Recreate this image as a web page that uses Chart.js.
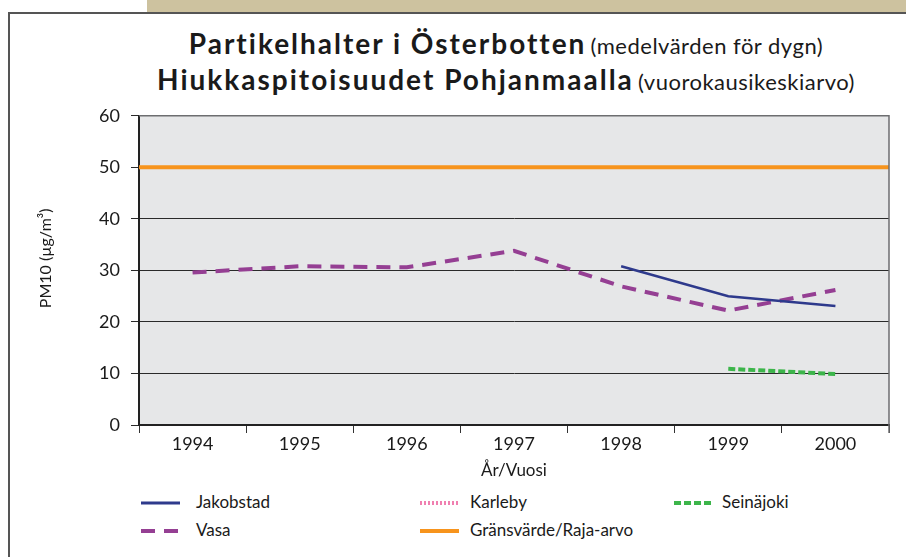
<!DOCTYPE html>
<html lang="sv">
  <head>
    <meta charset="UTF-8" />
    <title>Partikelhalter i Österbotten</title>
    <style>
      body { margin: 0; width: 906px; height: 557px; background: #fff; position: relative; overflow: hidden; font-family: Lato, "Open Sans", sans-serif; color: #1a1a1a; }
      .band { position: absolute; left: 147px; top: 0; width: 759px; height: 12px; background: #cdc29f; }
      .frame { position: absolute; left: 8px; top: 12px; width: 910px; height: 560px; border-left: 2px solid #555; border-top: 2px solid #555; }
      .title { position: absolute; left: 0; width: 1012px; text-align: center; white-space: nowrap; }
      .title b { font-size: 28px; font-weight: 700; letter-spacing: 2px; }
      .title span { font-size: 22px; letter-spacing: 0.5px; }
      #t1 { top: 26px; }
      #t2 { top: 62px; }
      .wrap { position: absolute; left: 0; top: 94px; width: 906px; height: 396px; }
      .legend-item { position: absolute; font-size: 17px; height: 22px; line-height: 22px; }
    </style>
  </head>
  <body>
    <div class="band"></div>
    <div class="frame"></div>
    <div class="title" id="t1"><b>Partikelhalter i Österbotten</b> <span>(medelvärden för dygn)</span></div>
    <div class="title" id="t2"><b>Hiukkaspitoisuudet Pohjanmaalla</b> <span>(vuorokausikeskiarvo)</span></div>
    <div class="wrap"><canvas id="myChart"></canvas></div>
    <div id="legend"></div>

    <script src="https://cdn.jsdelivr.net/npm/chart.js"></script>
    <script>
      // values
      const years = ["1994", "1995", "1996", "1997", "1998", "1999", "2000"];
      const jakobstad = [null, null, null, null, 30.8, 25.0, 23.1];
      const karleby = [null, null, null, null, null, null, null];
      const vasa = [29.6, 30.8, 30.6, 33.8, 26.9, 22.2, 26.2];
      const seinajoki = [null, null, null, null, null, 10.9, 9.9];
      const gransvarde = [50, 50, 50, 50, 50, 50, 50];
      const yTitle = "PM10 (µg/m³)";

      const plotBg = {
        id: "plotBg",
        beforeDraw(chart) {
          const { ctx, chartArea: a } = chart;
          ctx.save();
          ctx.fillStyle = "#e6e7e8";
          ctx.fillRect(a.left, a.top, a.right - a.left, a.bottom - a.top);
          ctx.restore();
        },
        afterDraw(chart) {
          const { ctx, chartArea: a } = chart;
          ctx.save();
          ctx.strokeStyle = "#6d6e70";
          ctx.lineWidth = 1.5;
          ctx.beginPath();
          ctx.moveTo(a.left, a.top);
          ctx.lineTo(a.right, a.top);
          ctx.lineTo(a.right, a.bottom + 8);
          ctx.stroke();
          // y axis title sits a bit above the middle of the plot
          ctx.translate(46, (a.top + a.bottom) / 2 - 12);
          ctx.rotate(-Math.PI / 2);
          ctx.fillStyle = "#1a1a1a";
          ctx.font = "16px Lato";
          ctx.textAlign = "center";
          ctx.textBaseline = "middle";
          ctx.fillText(yTitle, 0, 0);
          ctx.restore();
        },
      };

      // legend spots: [line x, text x, row y]
      const datasets = [
        { label: "Jakobstad", data: jakobstad, borderColor: "#2e3a8c", borderWidth: 2.5, borderDash: [], legendPos: [141, 196, 503] },
        { label: "Karleby", data: karleby, borderColor: "#f07fb0", borderWidth: 4, borderDash: [2, 2], legendPos: [420, 470, 503] },
        { label: "Seinäjoki", data: seinajoki, borderColor: "#3cb54a", borderWidth: 4, borderDash: [7, 3], legendPos: [674, 722, 503] },
        { label: "Vasa", data: vasa, borderColor: "#953f93", borderWidth: 4, borderDash: [14, 9], legendPos: [141, 196, 531] },
        { label: "Gränsvärde/Raja-arvo", data: gransvarde, borderColor: "#f7941d", borderWidth: 4, borderDash: [], xAxisID: "x2", legendPos: [420, 470, 531] },
      ];

      const chart = new Chart(document.getElementById("myChart"), {
        type: "line",
        data: {
          labels: years,
          datasets: datasets.map((d) => ({
            label: d.label,
            data: d.data,
            borderColor: d.borderColor,
            borderWidth: d.borderWidth,
            borderDash: d.borderDash,
            xAxisID: d.xAxisID || "x",
            pointRadius: 0,
            tension: 0,
            fill: false,
          })),
        },
        options: {
          responsive: true,
          maintainAspectRatio: false,
          animation: false,
          layout: { padding: { top: 16, right: 17, left: 0, bottom: 0 } },
          plugins: { legend: { display: false }, tooltip: { enabled: false }, title: { display: false } },
          scales: {
            x: {
              offset: true,
              grid: { offset: true, drawOnChartArea: false, drawTicks: true, tickLength: 8, color: "#333" },
              border: { color: "#222", width: 2 },
              ticks: { color: "#1a1a1a", font: { family: "Lato", size: 18 }, padding: 0, maxRotation: 0 },
              title: { display: true, text: "År/Vuosi", color: "#1a1a1a", font: { family: "Lato", size: 17 }, padding: { top: 4, bottom: 9 } },
              afterFit(scale) { scale.height = 65; },
            },
            x2: { type: "category", labels: years, offset: false, display: false },
            y: {
              min: 0,
              max: 60,
              ticks: { stepSize: 10, color: "#1a1a1a", font: { family: "Lato", size: 18 }, padding: 11 },
              grid: { color: "#2a2a2a", lineWidth: 1, tickLength: 8 },
              border: { color: "#222", width: 2 },
              afterFit(scale) { scale.width = 139; },
            },
          },
        },
        plugins: [plotBg],
      });

      // legend in three columns, built from the datasets
      const legend = document.getElementById("legend");
      datasets.forEach((d) => {
        const [lx, tx, ly] = d.legendPos;
        const sample = document.createElementNS("http://www.w3.org/2000/svg", "svg");
        sample.setAttribute("width", "39");
        sample.setAttribute("height", "22");
        sample.style.position = "absolute";
        sample.style.left = lx + "px";
        sample.style.top = ly - 11 + "px";
        const dash = d.borderDash.length ? d.borderDash.join(",") : "none";
        sample.innerHTML = '<line x1="0" y1="11" x2="39" y2="11" stroke="' + d.borderColor +
          '" stroke-width="' + Math.max(d.borderWidth, 3) + '" stroke-dasharray="' + dash + '"/>';
        legend.appendChild(sample);
        const text = document.createElement("div");
        text.className = "legend-item";
        text.style.left = tx + "px";
        text.style.top = ly - 12 + "px";
        text.textContent = d.label;
        legend.appendChild(text);
      });
    </script>
  </body>
</html>
